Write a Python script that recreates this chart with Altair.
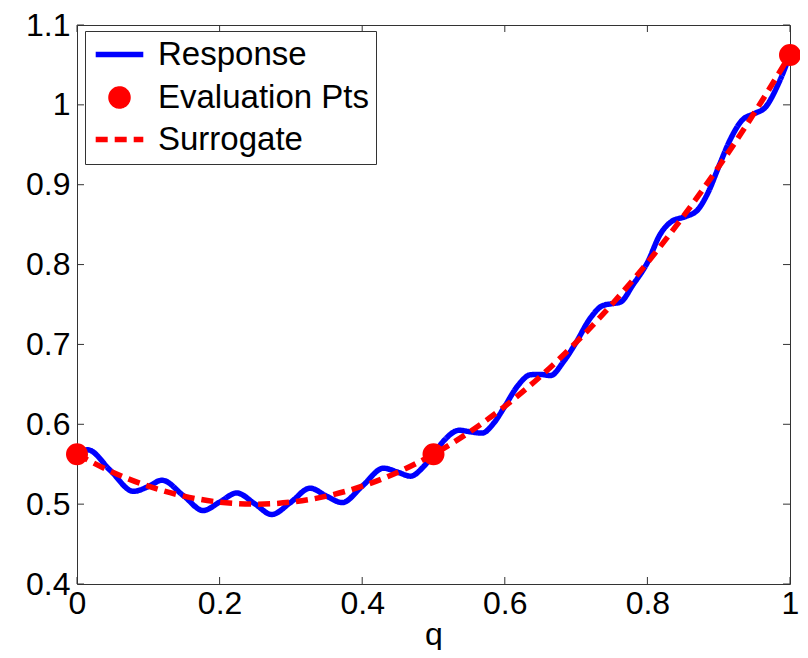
import altair as alt
import pandas as pd

FONT = "Liberation Sans"
FS = 32
LFS = 33

# Response curve
resp_q = [0.000, 0.015, 0.047, 0.079, 0.100, 0.119, 0.150, 0.177, 0.200, 0.224,
          0.250, 0.273, 0.300, 0.327, 0.350, 0.372, 0.400, 0.430, 0.450, 0.468,
          0.485, 0.500, 0.515, 0.536, 0.552, 0.568, 0.585, 0.600, 0.618, 0.636,
          0.650, 0.664, 0.682, 0.700, 0.720, 0.737, 0.750, 0.762, 0.780, 0.800,
          0.818, 0.834, 0.853, 0.870, 0.885, 0.900, 0.917, 0.933, 0.950, 0.966,
          0.983, 1.000]
resp_v = [0.5625, 0.5680, 0.5420, 0.5160, 0.5220, 0.5300, 0.5100, 0.4920, 0.5025, 0.5140,
          0.5000, 0.4870, 0.5025, 0.5200, 0.5100, 0.5020, 0.5225, 0.5450, 0.5400, 0.5350,
          0.5460, 0.5625, 0.5800, 0.5925, 0.5905, 0.5890, 0.6020, 0.6225, 0.6480, 0.6620,
          0.6625, 0.6610, 0.6780, 0.7025, 0.7330, 0.7485, 0.7510, 0.7530, 0.7750, 0.8025,
          0.8380, 0.8540, 0.8600, 0.8680, 0.8900, 0.9225, 0.9580, 0.9810, 0.9890, 0.9975,
          1.0250, 1.0625]

# Surrogate curve
sur_q = [0.00, 0.05, 0.10, 0.15, 0.20, 0.25, 0.30, 0.35, 0.40, 0.45, 0.50,
         0.55, 0.60, 0.65, 0.70, 0.75, 0.80, 0.85, 0.90, 0.95, 1.00]
sur_v = [0.5625, 0.5400, 0.5225, 0.5100, 0.5025, 0.5000, 0.5025, 0.5100, 0.5225, 0.5400, 0.5625,
         0.5900, 0.6225, 0.6600, 0.7025, 0.7500, 0.8025, 0.8600, 0.9225, 0.9900, 1.0625]

# Evaluation points
eval_q = [0.0, 0.5, 1.0]
eval_v = [0.5625, 0.5625, 1.0625]

x_ticks = [0.0, 0.2, 0.4, 0.6, 0.8, 1.0]
y_ticks = [0.4, 0.5, 0.6, 0.7, 0.8, 0.9, 1.0, 1.1]
series = ["Response", "Evaluation Pts", "Surrogate"]
series_colors = ["#0000ff", "#ff0000", "#ff0000"]

W, H = 713, 559
TICK = 7
FRAME = "#333333"
DASH = [12, 7]
LW = 5.5
LINE_SYM = "M-2.8,0H2.8"

resp_df = pd.DataFrame({"q": resp_q, "v": resp_v, "s": "Response"})
sur_df = pd.DataFrame({"q": sur_q, "v": sur_v, "s": "Surrogate"})
eval_df = pd.DataFrame({"q": eval_q, "v": eval_v, "s": "Evaluation Pts"})
xt_df = pd.DataFrame({"q": x_ticks})
yt_df = pd.DataFrame({"v": y_ticks})

x_enc = alt.X("q:Q",
              scale=alt.Scale(domain=[0, 1], nice=False, zero=False),
              axis=alt.Axis(values=x_ticks, format=".1~f", title="q", ticks=False,
                            domain=False, grid=False, labelPadding=4, titlePadding=0,
                            labelFlush=False, labelOverlap=False))
y_enc = alt.Y("v:Q",
              scale=alt.Scale(domain=[0.4, 1.1], nice=False, zero=False),
              axis=alt.Axis(values=y_ticks, format=".1~f", title=None, ticks=False,
                            domain=False, grid=False, labelPadding=7,
                            labelFlush=False, labelOverlap=False))

legend = alt.Legend(
    title=None, orient="none", legendX=8, legendY=6,
    labelFont=FONT, labelFontSize=LFS, labelColor="black", labelLimit=500,
    symbolSize=289, symbolStrokeWidth=LW, symbolOpacity=1,
    strokeColor=FRAME, fillColor="white", padding=7, rowPadding=6,
    symbolOffset=11, labelOffset=22,
)
color = alt.Color("s:N", scale=alt.Scale(domain=series, range=series_colors), legend=legend)
shape = alt.Shape("s:N", scale=alt.Scale(domain=series, range=[LINE_SYM, "circle", LINE_SYM]), legend=legend)
dash = alt.StrokeDash("s:N", scale=alt.Scale(domain=series, range=[[1, 0], [1, 0], DASH]), legend=legend)

resp = alt.Chart(resp_df).mark_line(strokeWidth=LW, interpolate="monotone").encode(
    x=x_enc, y=y_enc, color=color, strokeDash=dash)
sur = alt.Chart(sur_df).mark_line(strokeWidth=LW, interpolate="monotone").encode(
    x=x_enc, y=y_enc, color=color, strokeDash=dash)
pts = alt.Chart(eval_df).mark_point(filled=True, opacity=1, size=289, stroke="#ff0000", strokeWidth=5).encode(
    x=x_enc, y=y_enc, color=color, shape=shape)

tick_style = dict(color=FRAME, strokeWidth=1)
xt_bot = alt.Chart(xt_df).mark_rule(**tick_style).encode(x=x_enc, y=alt.value(H), y2=alt.value(H - TICK))
xt_top = alt.Chart(xt_df).mark_rule(**tick_style).encode(x=x_enc, y=alt.value(0), y2=alt.value(TICK))
yt_left = alt.Chart(yt_df).mark_rule(**tick_style).encode(y=y_enc, x=alt.value(0), x2=alt.value(TICK))
yt_right = alt.Chart(yt_df).mark_rule(**tick_style).encode(y=y_enc, x=alt.value(W), x2=alt.value(W - TICK))

chart = alt.layer(xt_bot, xt_top, yt_left, yt_right, resp, sur, pts).properties(
    width=W, height=H,
    autosize=alt.AutoSizeParams(type="none"),
    padding={"left": 69, "top": 17, "right": 10, "bottom": 66},
    background="white",
).configure_view(
    stroke=FRAME, strokeWidth=1
).configure_axis(
    labelFont=FONT, labelFontSize=FS, labelColor="black",
    titleFont=FONT, titleFontSize=FS, titleColor="black", titleFontWeight="normal",
)

chart.save("out.html", embed_options={"renderer": "svg", "actions": False})
